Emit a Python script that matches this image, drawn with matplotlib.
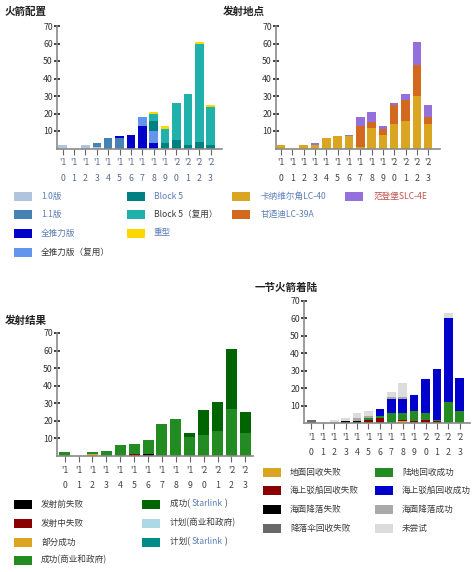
import matplotlib
matplotlib.use("Agg")
import matplotlib.pyplot as plt
from matplotlib.patches import Rectangle
import numpy as np

plt.rcParams['font.family'] = ['Noto Sans CJK SC', 'DejaVu Sans']

# 年份和刻度标签
years = list(range(2010, 2024))
tick_labels = ["'%s\n%s" % (str(y)[2], str(y)[3]) for y in years]

# 火箭配置
v10 = [2, 0, 2, 1, 0, 0, 0, 0, 0, 0, 0, 0, 0, 0]
v11 = [0, 0, 0, 2, 6, 6, 0, 0, 0, 0, 0, 0, 0, 0]
ft = [0, 0, 0, 0, 0, 1, 8, 13, 3, 0, 0, 0, 0, 0]
ft_reused = [0, 0, 0, 0, 0, 0, 0, 5, 7, 0, 0, 0, 0, 0]
b5 = [0, 0, 0, 0, 0, 0, 0, 0, 6, 3, 5, 2, 4, 2]
b5_reused = [0, 0, 0, 0, 0, 0, 0, 0, 4, 8, 21, 29, 56, 22]
heavy = [0, 0, 0, 0, 0, 0, 0, 0, 1, 2, 0, 0, 1, 1]

# 发射地点
ccsfs = [2, 0, 2, 2, 6, 7, 7, 1, 12, 8, 14, 16, 30, 14]
ksc = [0, 0, 0, 0, 0, 0, 0, 12, 3, 3, 11, 12, 18, 4]
vafb = [0, 0, 0, 1, 0, 0, 1, 5, 6, 2, 1, 3, 13, 7]

# 发射结果
pre_fail = [0, 0, 0, 0, 0, 0, 1, 0, 0, 0, 0, 0, 0, 0]
flight_fail = [0, 0, 0, 0, 0, 1, 0, 0, 0, 0, 0, 0, 0, 0]
partial = [0, 0, 1, 0, 0, 0, 0, 0, 0, 0, 0, 0, 0, 0]
success = [2, 0, 1, 3, 6, 6, 8, 18, 21, 11, 12, 14, 27, 13]
success_sl = [0, 0, 0, 0, 0, 0, 0, 0, 0, 2, 14, 17, 34, 12]
planned = [0] * 14
planned_sl = [0] * 14

# 一节火箭着陆
ground_fail = [0, 0, 0, 0, 0, 0, 0, 0, 1, 0, 0, 0, 0, 0]
drone_fail = [0, 0, 0, 0, 0, 2, 3, 0, 1, 1, 2, 1, 0, 0]
ocean_fail = [0, 0, 0, 1, 1, 0, 0, 0, 0, 0, 0, 0, 0, 0]
chute_fail = [2, 0, 0, 0, 0, 0, 0, 0, 0, 0, 0, 0, 0, 0]
land_ok = [0, 0, 0, 0, 0, 1, 1, 6, 4, 6, 4, 1, 12, 7]
drone_ok = [0, 0, 0, 0, 0, 0, 4, 8, 8, 9, 19, 29, 48, 19]
ocean_ok = [0, 0, 0, 0, 2, 1, 0, 1, 1, 0, 0, 0, 0, 0]
not_tried = [0, 0, 2, 2, 3, 3, 0, 3, 8, 0, 0, 0, 3, 0]

BLUE_TXT = '#5b7db8'
DARK_TXT = '#3a3a3a'
LEG_FS = 6.2

fig = plt.figure(figsize=(4.74, 5.72), dpi=100)
W, H = 474.0, 572.0


def px_axes(x0, x1, y_top, y_bot):
    return fig.add_axes([x0 / W, 1 - y_bot / H, (x1 - x0) / W, (y_bot - y_top) / H])


def stacked(ax, series, colors, xlim, width=0.75, tick_color='#5a6a8a'):
    x = np.arange(len(years))
    bottom = np.zeros(len(years))
    for vals, c in zip(series, colors):
        vals = np.array(vals, dtype=float)
        ax.bar(x, vals, width, bottom=bottom, color=c, linewidth=0)
        bottom += vals
    ax.set_xlim(*xlim)
    ax.set_ylim(0, 70)
    ax.set_yticks(range(10, 71, 10))
    ax.set_xticks(x)
    ax.set_xticklabels(tick_labels, fontsize=6.3, color=tick_color, linespacing=1.9)
    ax.tick_params(axis='y', labelsize=6.3, direction='inout', length=4, width=1.2,
                   color='#222', pad=1, labelcolor='#333')
    ax.tick_params(axis='x', direction='out', length=4, width=0.8, color='#666', pad=3)
    for s in ['top', 'right']:
        ax.spines[s].set_visible(False)
    for s in ['left', 'bottom']:
        ax.spines[s].set_color('#8a8a8a')
        ax.spines[s].set_linewidth(1.2)


ax1 = px_axes(57, 222, 26, 148.5)
stacked(ax1, [v10, v11, ft, ft_reused, b5, b5_reused, heavy],
        ['#b0c4de', '#4682b4', '#0000cd', '#6495ed', '#008080', '#20b2aa', '#ffd700'],
        (-0.5, 14.0))

ax2 = px_axes(276, 440, 26, 148.5)
stacked(ax2, [ccsfs, ksc, vafb], ['#daa520', '#d2691e', '#9370db'], (-0.45, 14.05),
        tick_color='#444')

ax3 = px_axes(57, 253, 333, 456)
stacked(ax3, [pre_fail, flight_fail, partial, success, success_sl, planned, planned_sl],
        ['#000000', '#8b0000', '#daa520', '#228b22', '#006400', '#add8e6', '#008b8b'],
        (-0.55, 13.55), width=0.79, tick_color='#444')

ax4 = px_axes(304, 470, 301, 423)
stacked(ax4, [ground_fail, drone_fail, ocean_fail, chute_fail, land_ok, drone_ok, ocean_ok,
              not_tried],
        ['#daa520', '#8b0000', '#000000', '#696969', '#228b22', '#0000cd', '#a9a9a9',
         '#dcdcdc'],
        (-0.65, 13.9), tick_color='#444')

# 标题
for x, y, t in [(5, 12, '火箭配置'), (223, 12, '发射地点'), (5, 321, '发射结果'),
                (255, 288, '一节火箭着陆')]:
    fig.text(x / W, 1 - y / H, t, fontsize=7.6, fontweight='bold', color='#222',
             va='center', ha='left')


def swatch(x, y, color, label, tcolor=DARK_TXT, tx=None):
    fig.patches.append(Rectangle((x / W, 1 - (y + 4.5) / H), 18 / W, 9 / H,
                                 transform=fig.transFigure, facecolor=color,
                                 edgecolor='none', figure=fig))
    if tx is None:
        tx = x + 28
    if isinstance(label, list):
        renderer = fig.canvas.get_renderer()
        cx = tx
        for part, pc in label:
            t = fig.text(cx / W, 1 - y / H, part, fontsize=LEG_FS, color=pc, va='center',
                         ha='left')
            cx += t.get_window_extent(renderer).width
    else:
        fig.text(tx / W, 1 - y / H, label, fontsize=LEG_FS, color=tcolor, va='center',
                 ha='left')


# 上方图例
top_rows = [196, 214.5, 233, 252]
for i, (c, l, tc) in enumerate([('#b0c4de', '1.0版', BLUE_TXT), ('#4682b4', '1.1版', BLUE_TXT),
                                ('#0000cd', '全推力版', BLUE_TXT),
                                ('#6495ed', '全推力版（复用）', DARK_TXT)]):
    swatch(14, top_rows[i], c, l, tc, tx=41)
for i, (c, l, tc) in enumerate([('#008080', 'Block 5', BLUE_TXT),
                                ('#20b2aa', 'Block 5（复用）', DARK_TXT),
                                ('#ffd700', '重型', BLUE_TXT)]):
    swatch(127, top_rows[i], c, l, tc, tx=154)
for i, (c, l, tc) in enumerate([('#daa520', '卡纳维尔角LC-40', BLUE_TXT),
                                ('#d2691e', '甘迺迪LC-39A', BLUE_TXT)]):
    swatch(232, top_rows[i], c, l, tc, tx=261)
swatch(345, top_rows[0], '#9370db', '范登堡SLC-4E', '#c0504d', tx=374)

# 发射结果图例
bl_rows = [504, 523, 542, 560]
for i, (c, l) in enumerate([('#000000', '发射前失败'), ('#8b0000', '发射中失败'),
                            ('#daa520', '部分成功'), ('#228b22', '成功(商业和政府)')]):
    swatch(14, bl_rows[i], c, l, tx=41)
swatch(142, bl_rows[0], '#006400', [('成功( ', DARK_TXT), ('Starlink', BLUE_TXT), (' )', DARK_TXT)],
       tx=170)
swatch(142, bl_rows[1], '#add8e6', '计划(商业和政府)', tx=170)
swatch(142, bl_rows[2], '#008b8b', [('计划( ', DARK_TXT), ('Starlink', BLUE_TXT), (' )', DARK_TXT)],
       tx=170)

# 着陆图例
br_rows = [472, 490.5, 509, 528]
for i, (c, l) in enumerate([('#daa520', '地面回收失败'), ('#8b0000', '海上驳船回收失败'),
                            ('#000000', '海面降落失败'), ('#696969', '降落伞回收失败')]):
    swatch(263, br_rows[i], c, l, tx=290)
for i, (c, l) in enumerate([('#228b22', '陆地回收成功'), ('#0000cd', '海上驳船回收成功'),
                            ('#a9a9a9', '海面降落成功'), ('#dcdcdc', '未尝试')]):
    swatch(375, br_rows[i], c, l, tx=402)

fig.savefig('out.png', dpi=100)
